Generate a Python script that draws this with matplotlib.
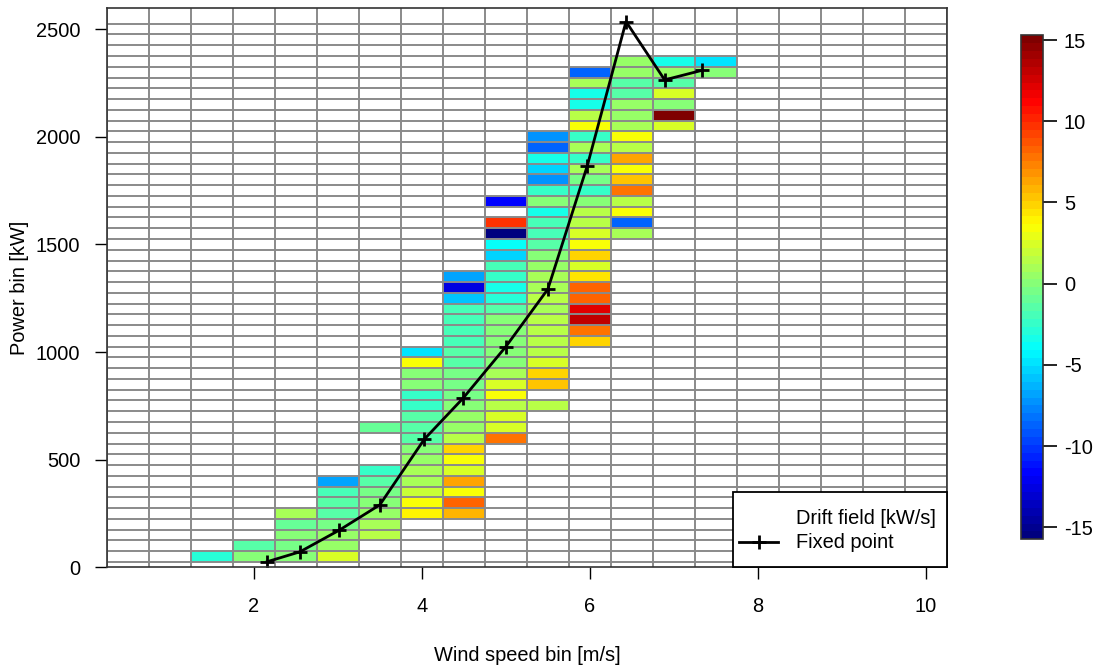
import numpy as np
import matplotlib
matplotlib.use("Agg")
import matplotlib.pyplot as plt
from matplotlib.colors import LinearSegmentedColormap, Normalize
from matplotlib.lines import Line2D
from matplotlib.patches import Rectangle

plt.rcParams['font.family'] = ['Liberation Sans', 'DejaVu Sans']
plt.rcParams['axes.unicode_minus'] = False

# ---------------- data ----------------
# wind speed bin centres (m/s) that hold drift-field cells
wind_bins = [1.5, 2.0, 2.5, 3.0, 3.5, 4.0, 4.5, 5.0, 5.5, 6.0, 6.5, 7.0, 7.5]
# lowest power bin (kW) of each column; values below go upward in 50 kW steps
first_power_bin = [50, 50, 50, 50, 150, 250, 250, 600, 750, 1050, 1550, 2050, 2300]

drift_1_5 = [-3.1]
drift_2_0 = [-0.2, -1.2]
drift_2_5 = [0.1, -0.3, -0.2, -1.0, 0.8]
drift_3_0 = [2.5, 0.3, 0.3, -0.3, -1.2, -1.2, -1.7, -6.9]
drift_3_5 = [1.5, 0.8, 0.3, -0.2, -0.7, -1.5, -2.2, None, None, None, -0.8]
drift_4_0 = [4.0, 3.2, 2.0, 0.8, 0.8, 0.3, -0.2, -1.2, -1.2, -1.6, -2.6, -2.2,
             -0.2, -0.2, 3.2, -4.6]
drift_4_5 = [5.8, 8.5, 3.2, 6.5, 2.2, 3.2, 4.8, 1.3, 0.3, 0.3, -0.2, -0.7,
             -0.7, -0.7, -1.2, -1.2, -1.7, -1.7, -1.7, -1.7, -6.0, -12.8, -6.9]
drift_5_0 = [7.75, 2.2, 2.5, 1.5, 3.65, 2.6, 0.8, -0.2, -0.2, -0.2, -0.2, -0.2,
             -1.2, -3.1, -3.3, -2.2, -2.1, -5.5, -4.1, -15.74, 9.5, None, -11.4]
drift_5_5 = [1.5, None, 5.3, 5.0, 2.5, 1.5, 1.7, 1.3, 1.5, 0.8, 1.3, 1.0, 0.8,
             0.3, -0.2, -1.2, -2.1, -1.7, -3.3, -0.2, -2.3, -7.4, -5.5, -3.3,
             -8.9, -7.4]
drift_6_0 = [5.0, 7.75, 13.3, 12.3, 8.5, 8.5, 4.3, 2.2, 5.0, 3.2, 2.5, 1.3, 1.3,
             -0.2, -2.2, -0.7, 0.8, -2.2, 0.8, -2.2, 3.2, 1.3, -3.3, -3.3, 0.8,
             -8.5]
drift_6_5 = [0.8, -8.9, 3.65, 1.3, 8.0, 5.3, 3.2, 6.3, 1.7, 3.2, 0.8, 0.3, 0.3,
             -1.2, -1.2, 0.3, 0.3]
drift_7_0 = [2.2, 15.29, -0.2, 2.2, -1.2, 0.3, -3.3]
drift_7_5 = [-0.2, -5.0]

drift_columns = [drift_1_5, drift_2_0, drift_2_5, drift_3_0, drift_3_5, drift_4_0,
                 drift_4_5, drift_5_0, drift_5_5, drift_6_0, drift_6_5, drift_7_0,
                 drift_7_5]

# fixed points
fixed_wind = [2.16, 2.55, 3.02, 3.50, 4.03, 4.49, 5.00, 5.50, 5.97, 6.43, 6.89, 7.33]
fixed_power = [26, 72, 173, 290, 595, 785, 1025, 1292, 1866, 2535, 2264, 2308]

x_ticks = [2, 4, 6, 8, 10]
y_ticks = [0, 500, 1000, 1500, 2000, 2500]
cbar_ticks = [-15, -10, -5, 0, 5, 10, 15]

# ---------------- grid ----------------
wind_step = 0.5
power_step = 50
x_centers = np.arange(0.5, 10.01, wind_step)          # 20 columns
y_centers = np.arange(0, 2501, power_step)             # 51 rows
x_edges = np.append(x_centers - wind_step / 2, x_centers[-1] + wind_step / 2)
y_edges = np.append(y_centers - power_step / 2, y_centers[-1] + power_step / 2)

Z = np.full((len(y_centers), len(x_centers)), np.nan)
for wb, p0, vals in zip(wind_bins, first_power_bin, drift_columns):
    ci = int(round((wb - x_centers[0]) / wind_step))
    r0 = int(round((p0 - y_centers[0]) / power_step))
    for k, v in enumerate(vals):
        if v is not None:
            Z[r0 + k, ci] = v
Zm = np.ma.masked_invalid(Z)

palette = ["#00007F", "#0000FF", "#007FFF", "#00FFFF", "#7FFF7F",
           "#FFFF00", "#FF7F00", "#FF0000", "#7F0000"]
cmap = LinearSegmentedColormap.from_list("jetR", palette, N=64)
norm = Normalize(vmin=np.nanmin(Z), vmax=np.nanmax(Z))

# ---------------- figure ----------------
W, H = 1102, 668
fig = plt.figure(figsize=(W / 100, H / 100), dpi=100)
L, R, T, B = 106.7, 947.0, 8.0, 567.3
ax = fig.add_axes([L / W, 1 - B / H, (R - L) / W, (B - T) / H])

mesh = ax.pcolormesh(x_edges, y_edges, Zm, cmap=cmap, norm=norm, zorder=1)

ymax = 2598
ax.vlines(x_edges, 0, ymax, colors="#8a8a8a", linewidth=1.4, zorder=2)
ax.hlines(y_edges[1:], x_edges[0], x_edges[-1], colors="#8a8a8a", linewidth=1.4, zorder=2)

ax.plot(fixed_wind, fixed_power, color="black", linewidth=2.0, marker="+",
        markersize=10, markeredgewidth=2.0, zorder=4)

ax.set_xlim(x_edges[0], x_edges[-1])
ax.set_ylim(0, ymax)
ax.set_xticks(x_ticks)
ax.set_yticks(y_ticks)
ax.tick_params(axis="both", direction="out", length=8.6, width=1.0, labelsize=14.4,
               colors="black")
ax.tick_params(axis="x", pad=13)
ax.tick_params(axis="y", pad=10.5)
for s in ax.spines.values():
    s.set_linewidth(1.2)
    s.set_color("#333333")
    s.set_zorder(5)

fig.text(527 / W, 1 - 655.7 / H, "Wind speed bin [m/s]", ha="center", va="center",
         fontsize=14.4)
fig.text(20 / W, 1 - 287.6 / H, "Power bin [kW]", ha="center", va="center",
         rotation=90, fontsize=14.4)

# legend box (frame drawn separately to match the reference padding)
box = Rectangle((733 / W, 1 - 567.3 / H), (947 - 733) / W, (567.3 - 492) / H,
                transform=fig.transFigure, facecolor="white", edgecolor="black",
                linewidth=1.3, zorder=6, clip_on=False)
fig.patches.append(box)
handles = [Line2D([], [], linestyle="none"),
           Line2D([], [], color="black", linewidth=2.0, marker="+", markersize=10,
                  markeredgewidth=2.0)]
leg = fig.legend(handles, ["Drift field [kW/s]", "Fixed point"], loc="center left",
                 bbox_to_anchor=(739 / W, 1 - 531 / H), bbox_transform=fig.transFigure,
                 borderaxespad=0, fontsize=14.4, frameon=False,
                 handlelength=1.95, handletextpad=0.9, borderpad=0.0,
                 labelspacing=0.25)
leg.set_zorder(7)

# colorbar
cax = fig.add_axes([1021 / W, 1 - 539.3 / H, 22 / W, (539.3 - 35.3) / H])
cb = fig.colorbar(mesh, cax=cax, ticks=cbar_ticks)
cb.outline.set_edgecolor("#333333")
cb.outline.set_linewidth(1.2)
cax.tick_params(direction="out", length=10, width=1.2, labelsize=14.4, pad=5,
                colors="black")

fig.savefig("out.png", dpi=100)
